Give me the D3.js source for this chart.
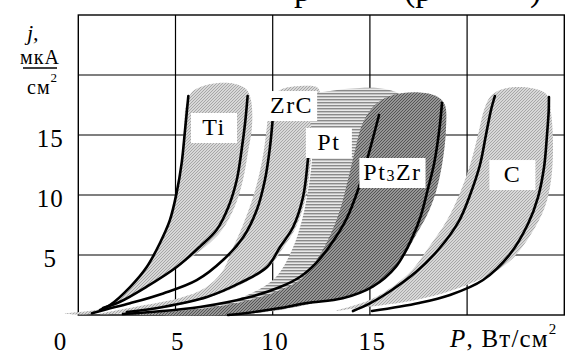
<!DOCTYPE html>
<html>
<head>
<meta charset="utf-8">
<script src="https://cdn.jsdelivr.net/npm/d3@7"></script>
<style>
  html, body { margin: 0; padding: 0; background: #fff; }
</style>
</head>
<body>
<div class="chart"></div>
<script>
// ticks
const xTicks = [0, 5, 10, 15];
const yTicks = [5, 10, 15];
const xGrid = [5, 10, 15, 20];
const yGrid = [5, 10, 15, 20];

// black fit curves [P, j]
const tiLeft = [[1.12, 0.42], [1.63, 0.83], [2.66, 2.33], [3.52, 4.0], [4.2, 6.0], [4.71, 7.9], [5.06, 10.2], [5.32, 12.7], [5.49, 15.4], [5.66, 18.25]];
const tiRight = [[1.27, 0.58], [2.15, 1.1], [3.52, 2.36], [5.06, 4.0], [6.26, 5.7], [7.12, 7.1], [7.72, 9.0], [8.15, 11.25], [8.4, 13.75], [8.58, 16.0], [8.71, 18.25]];
const zrcLeft = [[0.7, 0.15], [1.46, 0.48], [2.66, 0.98], [4.37, 1.8], [6.09, 2.9], [7.46, 4.6], [8.49, 6.5], [9.18, 8.75], [9.6, 11.25], [9.86, 14.0], [10.0, 16.3]];
const ptLine = [[2.5, 0.25], [4.36, 0.67], [6.62, 1.5], [8.32, 2.67], [9.71, 4.0], [10.38, 5.67], [11.05, 7.33], [11.56, 9.83], [11.82, 13.1], [11.92, 15.0]];
const pt3zrLeft = [[2.3, 0.08], [3.69, 0.25], [6.26, 0.67], [8.83, 1.5], [10.38, 2.33], [11.4, 3.17], [12.23, 4.33], [12.9, 5.67], [13.77, 7.92], [14.44, 10.67], [14.95, 13.5], [15.47, 16.67]];
const pt3zrRight = [[7.7, 0.0], [8.68, 0.17], [10.38, 0.58], [11.76, 1.0], [13.6, 1.39], [15.14, 2.36], [16.34, 4.03], [17.2, 6.53], [17.63, 8.33], [17.97, 10.42], [18.31, 12.67], [18.57, 15.42], [18.71, 17.67]];
const cLeft = [[14.13, 0.33], [14.95, 0.92], [15.98, 1.92], [17.37, 3.58], [18.55, 5.5], [19.58, 7.83], [20.15, 10.0], [20.66, 12.5], [20.97, 15.0], [21.23, 17.08], [21.43, 18.25]];
const cRight = [[15.11, 0.33], [17.53, 1.0], [19.12, 1.67], [20.82, 2.92], [22.21, 5.08], [23.13, 7.58], [23.65, 9.83], [23.96, 12.33], [24.11, 15.0], [24.2, 17.08], [24.21, 18.17]];

// scatter bands (outlines)
const tiShade = [[-0.7, 0.1], [1.12, 0.5], [1.63, 0.92], [2.66, 2.42], [3.53, 4.08], [4.2, 6.08], [4.72, 8.0], [5.03, 10.17], [5.28, 12.67], [5.44, 15.42], [5.54, 17.5], [5.85, 18.58], [6.41, 19.08], [7.19, 19.33], [8.06, 19.25], [8.63, 18.83], [8.88, 17.92], [8.94, 15.83], [8.73, 13.58], [8.47, 11.25], [8.06, 9.08], [7.39, 7.08], [6.52, 5.67], [5.23, 4.17], [3.69, 2.5], [2.25, 1.17], [1.37, 0.42], [0.6, 0.08]];
const zrcShade = [[1.12, 0.08], [3.17, 0.75], [5.23, 1.42], [6.52, 2.25], [7.39, 3.58], [7.91, 5.42], [8.47, 7.5], [8.94, 9.58], [9.3, 11.67], [9.55, 13.75], [9.71, 15.83], [9.86, 17.92], [10.37, 18.75], [11.4, 19.08], [12.33, 18.92], [12.43, 17.92], [12.18, 15.42], [11.97, 12.92], [11.71, 9.83], [11.2, 7.33], [10.53, 5.58], [9.76, 3.92], [8.32, 2.5], [6.62, 1.42], [4.36, 0.58], [2.5, 0.17]];
const ptShade = [[3.17, 0.08], [6.26, 0.58], [8.58, 1.58], [10.12, 3.08], [10.99, 5.42], [11.51, 7.92], [11.82, 10.42], [12.02, 12.92], [12.02, 15.42], [11.71, 17.5], [12.02, 18.33], [12.95, 18.67], [14.49, 18.92], [15.78, 18.83], [16.55, 18.33], [16.8, 17.08], [16.29, 9.58], [15.0, 4.58], [12.95, 1.67], [10.38, 0.42], [6.26, 0.0]];
const pt3zrShade = [[2.66, 0.08], [6.26, 0.5], [8.83, 1.25], [10.38, 2.08], [11.4, 2.92], [12.18, 4.42], [12.84, 6.25], [13.46, 8.75], [13.87, 11.25], [14.18, 13.33], [14.59, 15.83], [15.11, 17.25], [15.78, 18.08], [16.7, 18.5], [17.83, 18.5], [18.5, 18.17], [18.86, 17.5], [18.91, 15.42], [18.71, 12.5], [18.35, 10.0], [17.94, 8.33], [17.37, 6.67], [16.55, 4.42], [15.42, 2.75], [13.97, 1.58], [11.92, 0.92], [9.86, 0.33], [7.8, 0.0]];
const cShade = [[13.25, 0.33], [15.0, 1.25], [16.14, 2.33], [17.17, 3.75], [18.04, 5.67], [18.97, 7.92], [19.63, 10.17], [20.15, 12.5], [20.56, 15.0], [20.87, 17.08], [21.18, 18.17], [21.69, 18.75], [22.51, 19.0], [23.54, 18.83], [24.11, 18.33], [24.32, 16.83], [24.42, 14.0], [24.32, 11.25], [24.0, 9.0], [23.29, 6.75], [22.26, 4.58], [20.92, 3.17], [19.12, 2.0], [17.37, 1.25], [15.31, 0.75], [13.97, 0.5]];

// material labels: name, anchor [P, j]
const labelNames = ['Ti', 'ZrC', 'Pt', 'Pt3Zr', 'C'];
const labelAt = [[6.98, 15.0], [10.97, 16.83], [12.89, 13.75], [16.16, 11.25], [22.33, 11.08]];

const W = 566, H = 351;
const x = d3.scaleLinear().domain([0, 25]).range([78.3, 564.3]);
const y = d3.scaleLinear().domain([0, 25]).range([315, 15]);

const svg = d3.select('.chart').append('svg')
  .attr('width', W)
  .attr('height', H)
  .style('display', 'block');

// patterns
const defs = svg.append('defs');

function diagPattern(id, bg, fg, sw) {
  const p = defs.append('pattern')
    .attr('id', id)
    .attr('patternUnits', 'userSpaceOnUse')
    .attr('width', 3)
    .attr('height', 3);
  p.append('rect').attr('width', 3).attr('height', 3).attr('fill', bg);
  p.append('path')
    .attr('d', 'M-1,1 L1,-1 M0,3 L3,0 M2,4 L4,2')
    .attr('stroke', fg)
    .attr('stroke-width', sw);
}
diagPattern('light', '#d8d8d8', '#a2a2a2', 0.9);
diagPattern('dark', '#959595', '#555', 1);

const stripes = defs.append('pattern')
  .attr('id', 'stripes')
  .attr('patternUnits', 'userSpaceOnUse')
  .attr('width', 4)
  .attr('height', 3);
stripes.append('rect').attr('width', 4).attr('height', 3).attr('fill', '#e8e8e8');
stripes.append('rect').attr('width', 4).attr('height', 1.4).attr('fill', '#8a8a8a');

// partly cut title at the top (as in the source picture)
const title = svg.append('g').attr('font-size', 34).attr('fill', '#000');
title.append('text').attr('x', 294).attr('y', 1).text('р');
title.append('text').attr('x', 404).attr('y', 1).text('(р');
title.append('text').attr('x', 530).attr('y', 1).text(')');

// grid
const g = svg.append('g');

g.selectAll('.vgrid')
  .data(xGrid)
  .enter().append('line')
  .attr('x1', d => x(d)).attr('x2', d => x(d))
  .attr('y1', y(0)).attr('y2', y(25))
  .attr('stroke', '#000')
  .attr('stroke-width', 1.2);

g.selectAll('.hgrid')
  .data(yGrid)
  .enter().append('line')
  .attr('x1', x(0)).attr('x2', x(25))
  .attr('y1', d => y(d)).attr('y2', d => y(d))
  .attr('stroke', '#000')
  .attr('stroke-width', 1.2);

g.append('rect')
  .attr('x', x(0)).attr('y', y(25))
  .attr('width', x(25) - x(0))
  .attr('height', y(0) - y(25))
  .attr('fill', 'none')
  .attr('stroke', '#000')
  .attr('stroke-width', 1.4);

// bands
const area = d3.line()
  .x(d => x(d[0]))
  .y(d => y(d[1]))
  .curve(d3.curveCatmullRomClosed.alpha(0.5));

const bands = [
  [tiShade, 'url(#light)'],
  [zrcShade, 'url(#light)'],
  [ptShade, 'url(#stripes)'],
  [pt3zrShade, 'url(#dark)'],
  [cShade, 'url(#light)']
];

g.selectAll('.band')
  .data(bands)
  .enter().append('path')
  .attr('class', 'band')
  .attr('d', d => area(d[0]))
  .attr('fill', d => d[1]);

// fit lines
const line = d3.line()
  .x(d => x(d[0]))
  .y(d => y(d[1]))
  .curve(d3.curveCatmullRom.alpha(0.5));

g.selectAll('.fit')
  .data([tiLeft, tiRight, zrcLeft, ptLine, pt3zrLeft, pt3zrRight, cLeft, cRight])
  .enter().append('path')
  .attr('class', 'fit')
  .attr('d', d => line(d))
  .attr('fill', 'none')
  .attr('stroke', '#000')
  .attr('stroke-width', 2.6)
  .attr('stroke-linecap', 'round');

// labels in white boxes
labelNames.forEach((name, i) => {
  const lg = g.append('g');
  const box = lg.append('rect').attr('fill', '#fff');
  const t = lg.append('text')
    .style('font-family', 'Liberation Serif')
    .attr('x', x(labelAt[i][0]))
    .attr('y', y(labelAt[i][1]))
    .attr('text-anchor', 'middle')
    .attr('font-size', 24)
    .attr('letter-spacing', 1.5);
  const m = name.match(/^(\D+)(\d)(\D+)$/);
  if (m) {
    t.append('tspan').text(m[1]);
    t.append('tspan').attr('font-size', 16).attr('dy', 1).text(m[2]);
    t.append('tspan').attr('dy', -1).text(m[3]);
  } else {
    t.text(name);
  }
  const bb = t.node().getBBox();
  const bw = Math.max(bb.width + 8, 46);
  box.attr('x', bb.x + bb.width / 2 - bw / 2)
    .attr('y', y(labelAt[i][1]) - 22)
    .attr('width', bw)
    .attr('height', 30);
});

// axes
const xAxis = svg.append('g')
  .attr('transform', `translate(0, ${y(0)})`)
  .call(d3.axisBottom(x).tickValues(xTicks).tickSize(0).tickPadding(17));
xAxis.attr('font-size', 25);
xAxis.select('.domain').remove();
xAxis.selectAll('text')
  .attr('fill', '#000')
  .attr('letter-spacing', 1.5)
  .attr('dx', d => d === 0 ? -18 : 2);

const yAxis = svg.append('g')
  .attr('transform', `translate(${x(0)}, 0)`)
  .call(d3.axisLeft(y).tickValues(yTicks).tickSize(0));
yAxis.attr('font-size', 25);
yAxis.select('.domain').remove();
yAxis.selectAll('text')
  .attr('fill', '#000')
  .attr('letter-spacing', 1)
  .attr('text-anchor', 'middle')
  .attr('x', -28)
  .attr('dy', '0.45em');

// axis titles
const yt = svg.append('g').attr('fill', '#000');
yt.append('text').attr('x', 27).attr('y', 40).attr('font-size', 22)
  .attr('font-style', 'italic').text('j,');
yt.append('text').attr('x', 40).attr('y', 64).attr('font-size', 20)
  .attr('text-anchor', 'middle').attr('letter-spacing', 1).text('мкА');
yt.append('line').attr('x1', 23).attr('x2', 57).attr('y1', 68).attr('y2', 68)
  .attr('stroke', '#000').attr('stroke-width', 1.3);
const cm = yt.append('text').attr('x', 27).attr('y', 94).attr('font-size', 20)
  .attr('letter-spacing', 1);
cm.append('tspan').text('см');
cm.append('tspan').attr('font-size', 13).attr('dy', -12).text('2');

const xt = svg.append('text').attr('x', 450).attr('y', 347).attr('font-size', 25)
  .attr('letter-spacing', 1.2).attr('fill', '#000');
xt.append('tspan').attr('font-style', 'italic').text('P');
xt.append('tspan').text(', Вт/см');
xt.append('tspan').attr('font-size', 15).attr('dy', -13).text('2');

// serif everywhere
svg.selectAll('text').style('font-family', 'Liberation Serif');
</script>
</body>
</html>
